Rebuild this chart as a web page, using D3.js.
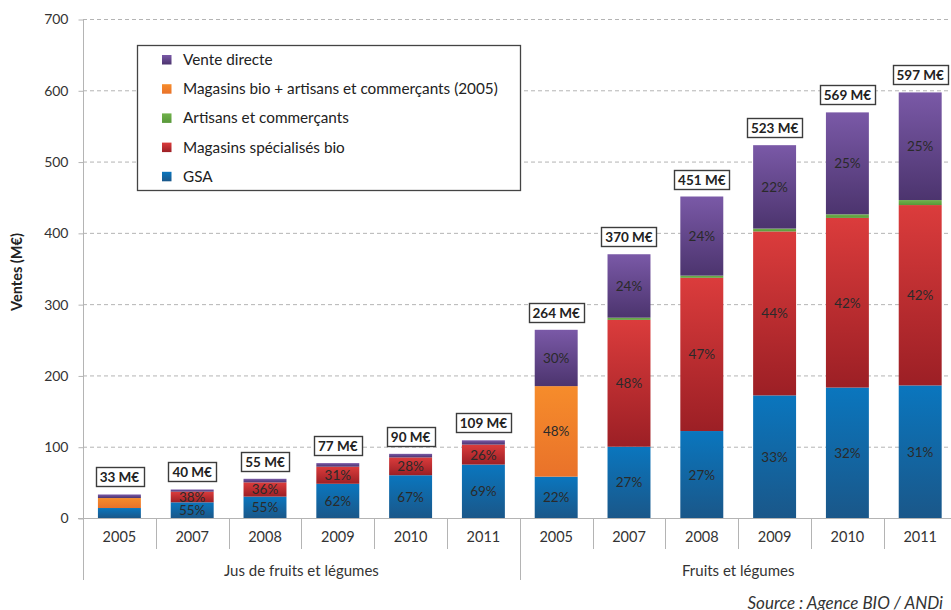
<!DOCTYPE html>
<html><head><meta charset="utf-8">
<script src="https://cdn.jsdelivr.net/npm/d3@7"></script>
<style>
html,body{margin:0;padding:0;background:#fff;}
svg{display:block;font-family:Lato,"Open Sans",sans-serif;}
</style></head>
<body>
<svg id="chart" width="951" height="610"></svg>
<script>
// ---- data ----
const groups = ["Jus de fruits et légumes", "Fruits et légumes"];
const years = ["2005", "2007", "2008", "2009", "2010", "2011"];
const categories = ["J2005","J2007","J2008","J2009","J2010","J2011","F2005","F2007","F2008","F2009","F2010","F2011"];
const yearLabels = ["2005","2007","2008","2009","2010","2011","2005","2007","2008","2009","2010","2011"];
const seriesNames = ["GSA","Magasins spécialisés bio","Magasins bio + artisans et commerçants (2005)","Artisans et commerçants","Vente directe"];
const gsa        = [14, 22, 30, 48, 60, 75,  58, 100, 122, 172, 183, 186];
const bio        = [ 0, 15, 20, 24, 25, 28,   0, 178, 215, 230, 238, 253];
const bioArt2005 = [14,  0,  0,  0,  0,  0, 127,   0,   0,   0,   0,   0];
const artisans   = [ 0,  0,  0,  0,  0,  0,   0,   3,   3,   4,   5,   7];
const vente      = [ 5,  3,  5,  5,  5,  6,  79,  89, 111, 117, 143, 151];
const totals     = [33, 40, 55, 77, 90, 109, 264, 370, 451, 523, 569, 597];
const gsaPct     = ["", "55%","55%","62%","67%","69%","22%","27%","27%","33%","32%","31%"];
const bioPct     = ["", "38%","36%","31%","28%","26%","", "48%","47%","44%","42%","42%"];
const bioArtPct  = ["", "", "", "", "", "", "48%", "", "", "", "", ""];
const artPct     = ["", "", "", "", "", "", "", "", "", "", "", ""];
const ventePct   = ["", "", "", "", "", "", "30%","24%","24%","22%","25%","25%"];
const yTicks = [0, 100, 200, 300, 400, 500, 600, 700];
const yTitle = "Ventes (M€)";
const sourceText = "Source : Agence BIO / ANDi";

const seriesValues = [gsa, bio, bioArt2005, artisans, vente];
const seriesLabels = [gsaPct, bioPct, bioArtPct, artPct, ventePct];
const seriesColors = [
  ["#0a76be", "#1a5789"],
  ["#db3c3c", "#9c1f25"],
  ["#f68c2b", "#e9722a"],
  ["#70b24b", "#58983a"],
  ["#7a59a7", "#4c346e"]
];

const svg = d3.select("#chart");
const defs = svg.append("defs");
seriesColors.forEach((c, i) => {
  const g = defs.append("linearGradient").attr("id", "g" + i)
    .attr("x1", 0).attr("y1", 0).attr("x2", 0).attr("y2", 1);
  g.append("stop").attr("offset", "0%").attr("stop-color", c[0]);
  g.append("stop").attr("offset", "100%").attr("stop-color", c[1]);
});

const mLeft = 83, mRight = 956.6, mTop = 19, mBottom = 518;
const x = d3.scaleBand().domain(categories).range([mLeft, mRight]).paddingInner(0.41).paddingOuter(0.205);
const y = d3.scaleLinear().domain([0, 700]).range([mBottom, mTop]);
const step = x.step();
const boundary = i => x(categories[0]) - step * 0.205 + i * step;

// grid
svg.append("g").selectAll("line").data(yTicks.filter(d => d > 0)).join("line")
  .attr("x1", mLeft).attr("x2", 951).attr("y1", d => y(d) + 0.5).attr("y2", d => y(d) + 0.5)
  .attr("stroke", "#b4b4b4").attr("stroke-width", 1).attr("stroke-dasharray", "4,3");

// y axis
const yAxis = d3.axisLeft(y).tickValues(yTicks).tickSize(5).tickPadding(10).tickFormat(d3.format("d"));
const yg = svg.append("g").attr("transform", `translate(${mLeft + 0.5},0.5)`).call(yAxis);
yg.select(".domain").remove();
yg.selectAll(".tick line").attr("stroke", "#b4b4b4");
yg.selectAll(".tick text").attr("font-size", 14).attr("fill", "#333").attr("font-family", "Lato");

svg.append("line").attr("x1", mLeft + 0.5).attr("x2", mLeft + 0.5).attr("y1", mTop).attr("y2", 580)
  .attr("stroke", "#b4b4b4");
svg.append("line").attr("x1", mLeft - 5).attr("x2", 951).attr("y1", mBottom + 0.5).attr("y2", mBottom + 0.5)
  .attr("stroke", "#b4b4b4");

svg.append("text").attr("transform", `translate(22,272) rotate(-90)`)
  .attr("text-anchor", "middle").attr("font-size", 14.5).attr("font-weight", "bold").attr("fill", "#222")
  .text(yTitle);

// category separators
for (let i = 1; i <= 12; i++) {
  const bx = Math.round(boundary(i)) + 0.5;
  svg.append("line").attr("x1", bx).attr("x2", bx).attr("y1", mBottom).attr("y2", i === 6 ? 580 : 549)
    .attr("stroke", "#b4b4b4");
}

// x labels
const xAxis = d3.axisBottom(x).tickSize(0).tickPadding(14).tickFormat((d, i) => yearLabels[i]);
const xg = svg.append("g").attr("transform", `translate(0,${mBottom})`).call(xAxis);
xg.select(".domain").remove();
xg.selectAll(".tick text").attr("font-size", 14.5).attr("fill", "#333").attr("font-family", "Lato");

groups.forEach((gname, gi) => {
  const cx = (boundary(gi * 6) + boundary(gi * 6 + 6)) / 2;
  svg.append("text").attr("x", cx).attr("y", 576).attr("text-anchor", "middle")
    .attr("font-size", 15).attr("fill", "#333").text(gname);
});

// bars
const stacks = categories.map((c, ci) => {
  let base = 0;
  return seriesValues.map((vals, si) => {
    const v = vals[ci];
    const seg = { c, ci, si, y0: base, y1: base + v, v, label: seriesLabels[si][ci] };
    base += v;
    return seg;
  });
}).flat().filter(d => d.v > 0);

svg.append("g").selectAll("rect").data(stacks).join("rect")
  .attr("x", d => x(d.c)).attr("width", x.bandwidth())
  .attr("y", d => y(d.y1)).attr("height", d => y(d.y0) - y(d.y1))
  .attr("fill", d => `url(#g${d.si})`);

svg.append("g").selectAll("text").data(stacks.filter(d => d.label)).join("text")
  .attr("x", d => x(d.c) + x.bandwidth() / 2)
  .attr("y", d => (y(d.y0) + y(d.y1)) / 2 + 5)
  .attr("text-anchor", "middle").attr("font-size", 13.5).attr("fill", "#2a2a2a")
  .text(d => d.label);

// total boxes
categories.forEach((c, ci) => {
  const g = svg.append("g");
  const cx = x(c) + x.bandwidth() / 2;
  const by = y(totals[ci]) - 7;
  const t = g.append("text").attr("x", cx).attr("y", by - 5).attr("text-anchor", "middle")
    .attr("font-size", 13.5).attr("font-weight", "bold").attr("fill", "#222")
    .text(totals[ci] + " M€");
  const w = t.node().getComputedTextLength() + 8;
  g.insert("rect", "text").attr("x", Math.round(cx - w / 2) + 0.5).attr("y", Math.round(by - 20) + 0.5)
    .attr("width", Math.round(w)).attr("height", 19)
    .attr("fill", "#fff").attr("stroke", "#3c3c3c").attr("stroke-width", 1.4);
});

// legend
const lg = svg.append("g");
lg.append("rect").attr("x", 137.5).attr("y", 45.5).attr("width", 383).attr("height", 145)
  .attr("fill", "#fff").attr("stroke", "#444").attr("stroke-width", 1.3);
const legendOrder = [4, 2, 3, 1, 0];
legendOrder.forEach((si, k) => {
  const ly = 59.5 + k * 29.2;
  lg.append("rect").attr("x", 162).attr("y", ly - 4.5).attr("width", 9.5).attr("height", 9.5)
    .attr("fill", `url(#g${si})`);
  lg.append("text").attr("x", 183).attr("y", ly + 5.5).attr("font-size", 15.3).attr("fill", "#222")
    .text(seriesNames[si]);
});

// source
svg.append("text").attr("x", 943).attr("y", 609).attr("text-anchor", "end")
  .attr("font-size", 17).attr("font-style", "italic").attr("fill", "#333").text(sourceText);
</script>
</body></html>
